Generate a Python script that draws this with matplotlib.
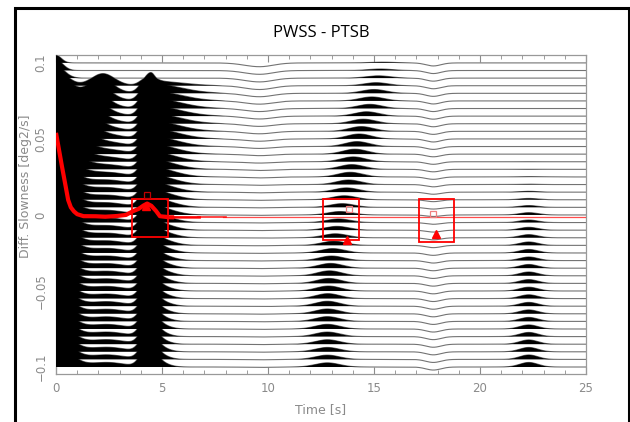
import numpy as np
import matplotlib
matplotlib.use('Agg')
import matplotlib.pyplot as plt
from matplotlib.patches import Rectangle

############################################################ DATA
slowness = np.round(np.linspace(0.1, -0.1, 41), 3)   # one beam trace per slowness
spacing = 0.005                                      # trace spacing in slowness units
time = np.linspace(0, 25, 2501)

anchor_s = [0.1, 0.095, 0.09, 0.085, 0.08, 0.07, 0.06, 0.05, 0.04, 0.02, 0.0, -0.02, -0.04, -0.06, -0.08, -0.1]

# direct arrival (peak at t=0, only right half visible)
direct_amp = [1.0, 1.4, 1.6, 2.0, 2.6, 3.0, 3.0, 3.0, 3.0, 3.0, 3.0, 3.0, 3.0, 3.0, 3.0, 3.0]
direct_w   = [0.35, 0.45, 0.55, 0.75, 0.85, 0.95, 1.0, 1.05, 1.1, 1.1, 1.1, 1.05, 1.0, 0.95, 0.95, 0.95]
# hump following the direct arrival on the upper beams
hump_t   = [2.2, 2.2, 2.2, 2.2, 2.1, 1.9, 1.7, 1.5, 1.35, 1.2, 1.2, 1.2, 1.2, 1.2, 1.2, 1.2]
hump_amp = [0, 0, 0, 1.4, 1.7, 1.7, 1.6, 1.3, 0.7, 0, 0, 0, 0, 0, 0, 0]
# low energy between the two big arrivals
coda_amp = [0, 0, 0, 0.2, 0.3, 0.35, 0.45, 0.55, 0.6, 0.6, 0.6, 0.6, 0.6, 0.6, 0.6, 0.6]
coda_w   = [1.0, 1.0, 1.0, 1.0, 1.0, 1.0, 1.0, 1.1, 1.2, 1.2, 1.2, 1.2, 1.2, 1.2, 1.2, 1.2]
# second big arrival near 4.3 s and its tail
second_amp = [0, 0, 0, 1.0, 2.0, 2.5, 2.5, 2.5, 2.5, 2.5, 2.5, 2.5, 2.5, 2.5, 2.5, 2.5]
tail_amp   = [0, 0, 0, 0.6, 1.2, 1.3, 1.3, 1.3, 1.25, 1.2, 1.15, 1.1, 1.05, 1.0, 1.0, 1.0]
tail_w     = [1.8, 1.8, 1.8, 1.8, 1.8, 1.75, 1.7, 1.6, 1.45, 1.3, 1.15, 1.0, 0.9, 0.8, 0.7, 0.7]
# weak trough near 9.6 s on the upper beams
dip1_amp = [-0.5, -0.5, -0.5, -0.5, -0.45, -0.4, -0.35, -0.3, -0.2, -0.1, -0.05, -0.05, -0.05, -0.05, -0.05, -0.05]
# arrival near 13.5 s, later on the upper beams
lens1_t   = [15.4, 15.3, 15.2, 15.1, 15.0, 14.8, 14.5, 14.3, 14.1, 13.8, 13.4, 13.1, 12.9, 12.8, 12.8, 12.8]
lens1_amp = [0.1, 0.2, 0.3, 0.4, 0.5, 0.55, 0.6, 0.65, 0.65, 0.6, 0.45, 0.55, 0.65, 0.65, 0.6, 0.55]
# trough near 17.8 s on every beam
dip2_amp = [-0.4, -0.4, -0.4, -0.4, -0.4, -0.4, -0.4, -0.4, -0.35, -0.3, -0.2, -0.3, -0.35, -0.4, -0.4, -0.4]
# arrival near 22.3 s on the lower beams
lens2_amp = [0, 0, 0, 0, 0, 0, 0, 0, 0, 0.05, 0.3, 0.45, 0.5, 0.5, 0.55, 0.6]

# picked slowness curve (red)
red_t = [0, 0.2, 0.4, 0.57, 0.7, 0.85, 1.0, 1.3, 1.8, 2.3, 2.8, 3.3, 3.6, 3.9, 4.1, 4.3, 4.5, 4.7, 4.9, 5.3, 5.8, 7, 10, 15, 20, 25]
red_s = [0.054, 0.038, 0.023, 0.010, 0.005, 0.0023, 0.0005, -0.0008, -0.0008, -0.0012, -0.0008, 0.0, 0.0023, 0.004, 0.006, 0.0075, 0.006, 0.003, -0.0008, -0.0015, -0.0016, -0.0016, -0.0016, -0.0016, -0.0016, -0.0016]

# picked windows, maxima and markers
box_t0 = [3.57, 12.59, 17.14]
box_t1 = [5.30, 14.29, 18.77]
box_s0 = [-0.0143, -0.0167, -0.0178]
box_s1 = [0.0102, 0.0102, 0.0102]
sq_t = [4.28, 13.83, 17.80]
sq_s = [0.0134, 0.0041, 0.0008]
sq_col = ['#c00000', '#f08080', '#f08080']
tri_t = [4.25, 13.71, 17.92]
tri_s = [0.0056, -0.0167, -0.0123]


############################################################ BUILD TRACES
def at_beams(vals):
    return np.interp(slowness, anchor_s[::-1], vals[::-1])[:, None]


def pulse(t0, amp, wl, wr):
    dt = time[None, :] - t0
    w = np.where(dt < 0, wl, wr)
    return amp * np.exp(-(dt / w) ** 2)


sig = np.zeros((len(slowness), len(time)))
sig += pulse(0.0, at_beams(direct_amp), 1.0, at_beams(direct_w))
sig += pulse(at_beams(hump_t), at_beams(hump_amp), 0.75, 0.75)
sig += pulse(2.4, at_beams(coda_amp), at_beams(coda_w), at_beams(coda_w))
sig += pulse(4.3, at_beams(second_amp), 0.45, 0.45)
sig += pulse(4.6, at_beams(tail_amp), 0.3, at_beams(tail_w))
sig += pulse(9.6, at_beams(dip1_amp), 1.0, 0.9)
sig += pulse(at_beams(lens1_t), at_beams(lens1_amp), 0.8, 0.8)
sig += pulse(17.8, at_beams(dip2_amp), 0.5, 0.5)
sig += pulse(22.3, at_beams(lens2_amp), 0.6, 0.6)

############################################################ PLOT
fig = plt.figure(figsize=(6.3, 4.22), dpi=100)
ax = fig.add_axes([56 / 630, 1 - 374 / 422, 530 / 630, 319 / 422])

for k, s in enumerate(slowness):
    y = s + spacing * sig[k]
    ax.plot(time, y, color='0.45', lw=0.8, zorder=2)
for k, s in enumerate(slowness):
    y = s + spacing * sig[k]
    ax.fill_between(time, s, y, where=sig[k] > 0, interpolate=True,
                    color='black', lw=0, zorder=3)

# red pick curve, thick early then thin
red_tt = np.linspace(0, 25, 1001)
red_ss = np.interp(red_tt, red_t, red_s)
m1 = red_tt <= 5.6
m2 = (red_tt >= 5.5) & (red_tt <= 6.8)
m3 = (red_tt >= 6.7) & (red_tt <= 8.0)
m4 = red_tt >= 7.9
ax.plot(red_tt[m1], red_ss[m1], color='red', lw=3.0, zorder=6, solid_capstyle='butt')
ax.plot(red_tt[m2], red_ss[m2], color='red', lw=1.8, zorder=6)
ax.plot(red_tt[m3], red_ss[m3], color='red', lw=1.2, alpha=0.85, zorder=6)
ax.plot(red_tt[m4], red_ss[m4], color='red', lw=0.9, alpha=0.7, zorder=6)

for i in range(3):
    ax.add_patch(Rectangle((box_t0[i], box_s0[i]), box_t1[i] - box_t0[i], box_s1[i] - box_s0[i],
                           fill=False, edgecolor='red', lw=1.3, zorder=7))
    ax.plot(sq_t[i], sq_s[i], marker='s', ms=4, mfc='none', mec=sq_col[i], mew=0.9, zorder=8)
ax.plot(tri_t, tri_s, '^', color='red', ms=6, zorder=8, lw=0)

ax.set_xlim(0, 25)
ax.set_ylim(-0.1046, 0.1052)
ax.set_xticks([0, 5, 10, 15, 20, 25])
ax.set_xticks(np.arange(0, 26, 1), minor=True)
ax.set_yticks([-0.1, -0.05, 0, 0.05, 0.1])
ax.set_yticklabels(['\u22120.1', '\u22120.05', '0', '0.05', '0.1'], rotation=90, va='center')
grey = '#8a8a8a'
ax.tick_params(axis='x', which='both', direction='in', top=True, bottom=True,
               colors='0.55', labelcolor=grey, labelsize=8.5, pad=6)
ax.tick_params(axis='x', which='major', length=5)
ax.tick_params(axis='x', which='minor', length=3)
ax.tick_params(axis='y', length=0, labelcolor=grey, labelsize=8.5, pad=6)
for sp in ax.spines.values():
    sp.set_color('0.6')
    sp.set_linewidth(0.9)

ax.set_xlabel('Time [s]', color=grey, fontsize=9)
ax.xaxis.set_label_coords(0.5, -0.09)
ax.set_ylabel('Diff. Slowness [deg2/s]', color=grey, fontsize=9)
ax.yaxis.set_label_coords(-0.046, 0.59)

fig.text(321 / 630, 1 - 33 / 422, 'PWSS - PTSB', ha='center', va='center',
         fontsize=12, family='Open Sans')
fig.patches.append(Rectangle((14.5 / 630, -0.1), 614 / 630, 1.1 - 8 / 422,
                             transform=fig.transFigure, fill=False,
                             edgecolor='black', lw=2.2, clip_on=False))

plt.savefig('out.png', dpi=100)
